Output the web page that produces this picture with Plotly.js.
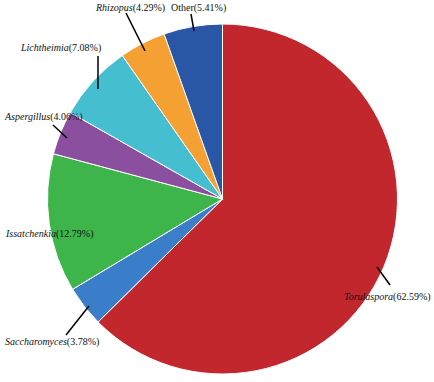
<!DOCTYPE html>
<html>
<head>
<meta charset="utf-8">
<script src="https://cdn.plot.ly/plotly-3.0.1.min.js"></script>
<style>html,body{margin:0;padding:0;background:#fff;}#chart{width:434px;height:382px;}</style>
</head>
<body>
<div id="chart"></div>
<script>
const genera = ["Torulaspora", "Saccharomyces", "Issatchenkia", "Aspergillus", "Lichtheimia", "Rhizopus", "Other"];
const italicName = [true, true, true, true, true, true, false];
const percents = [62.59, 3.78, 12.79, 4.06, 7.08, 4.29, 5.41];
const colors = ["#C1272D", "#3A7DC9", "#3DB54A", "#8B4F9F", "#45BFCF", "#F5A033", "#2A56A6"];

const W = 434, H = 382;
const px = x => x / W;
const py = y => 1 - y / H;

// label anchor (pixel), horizontal anchor side, leader lines (pixel endpoints)
const labelPos = [[433, 297, "right"], [3, 342, "left"], [3, 234, "left"], [2, 117, "left"], [18, 48, "left"], [167, 8, "right"], [169, 8, "left"]];
const leaders = [[[377, 267], [390, 285]], [[66, 335], [89, 306]], null, [[53, 125], [67, 138]], [[98, 56], [98, 89]], [[126, 13], [145, 51]], [[191, 14], [194, 31]]];

const annotations = genera.map((g, i) => ({
  x: px(labelPos[i][0]), y: py(labelPos[i][1]), xref: "paper", yref: "paper",
  xanchor: labelPos[i][2], yanchor: "middle", showarrow: false,
  text: (italicName[i] ? "<i>" + g + "</i>" : g) + "(" + percents[i].toFixed(2) + "%)",
  font: {family: "'Liberation Serif', 'Times New Roman', serif", size: 10, color: "#111"}
}));

const shapes = leaders.filter(l => l).map(l => ({
  type: "line", xref: "paper", yref: "paper",
  x0: px(l[0][0]), y0: py(l[0][1]), x1: px(l[1][0]), y1: py(l[1][1]),
  line: {color: "#000", width: 1.5}
}));

const cx = 222.5, cy = 199, r = 175;
const trace = {
  type: "pie",
  labels: genera,
  values: percents,
  marker: {colors: colors, line: {color: "#ffffff", width: 1}},
  sort: false,
  direction: "clockwise",
  rotation: 0,
  textinfo: "none",
  hoverinfo: "label+percent",
  showlegend: false,
  domain: {x: [px(cx - r), px(cx + r)], y: [py(cy + r), py(cy - r)]}
};

Plotly.newPlot("chart", [trace], {
  width: W, height: H,
  margin: {l: 0, r: 0, t: 0, b: 0},
  paper_bgcolor: "#fff",
  showlegend: false,
  annotations: annotations,
  shapes: shapes
}, {displayModeBar: false, staticPlot: true});
</script>
</body>
</html>
